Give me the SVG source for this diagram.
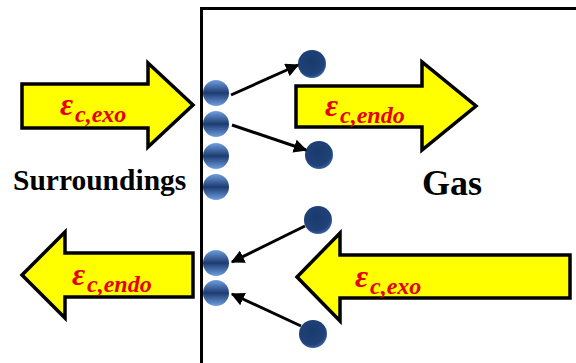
<svg xmlns="http://www.w3.org/2000/svg" width="576" height="363" viewBox="0 0 576 363">
<style>
.big{fill:#ffff00;stroke:#000;stroke-width:3.5;stroke-linejoin:miter}
.eps{font-family:"Liberation Serif","Times New Roman","DejaVu Serif",serif;font-weight:bold;font-style:italic;fill:#e60000}
.e1{font-size:32px}
.e2{font-size:24px}
.lbl{font-family:"Liberation Serif","Times New Roman","DejaVu Serif",serif;font-weight:bold;fill:#000}
.con{stroke:#000;stroke-width:3;fill:none;marker-end:url(#ah)}
</style>
<defs>
<marker id="ah" viewBox="0 0 10 10" refX="9" refY="5" markerWidth="4.5" markerHeight="4.5" orient="auto" markerUnits="strokeWidth">
<path d="M0,0 L10,5 L0,10 z" fill="#000"/>
</marker>
<linearGradient id="surf" x1="0" y1="0" x2="0" y2="1">
<stop offset="0" stop-color="#6f9fe0"/>
<stop offset="0.5" stop-color="#1d3b72"/>
<stop offset="1" stop-color="#6f9fe0"/>
</linearGradient>
<radialGradient id="gas" cx="0.45" cy="0.4" r="0.6">
<stop offset="0" stop-color="#1a3a6c"/>
<stop offset="0.8" stop-color="#1f4278"/>
<stop offset="1" stop-color="#3a62a0"/>
</radialGradient>
</defs>
<rect width="576" height="363" fill="#fff"/>
<g id="box"><path d="M201.5,363 V8.5 H576" fill="none" stroke="#000" stroke-width="3"/></g>

<g id="arrow-exo-in">
<polygon class="big" points="22,84 148,84 148,63 193,105 148,147 148,128 22,128"/>
<text class="eps e1" x="60" y="115">ε</text><text class="eps e2" x="75" y="122">c,exo</text>
</g>
<g id="arrow-endo-gas">
<polygon class="big" points="296,86 422,86 422,62 476,106 422,150 422,127 296,127"/>
<text class="eps e1" x="325" y="116">ε</text><text class="eps e2" x="340" y="123">c,endo</text>
</g>
<g id="arrow-exo-gas">
<polygon class="big" points="570,255 340,255 340,233 297,277 340,321 340,298 570,298"/>
<text class="eps e1" x="355" y="287">ε</text><text class="eps e2" x="370" y="294">c,exo</text>
</g>
<g id="arrow-endo-out">
<polygon class="big" points="193,253 65,253 65,232 22,275 65,318 65,297 193,297"/>
<text class="eps e1" x="72" y="285">ε</text><text class="eps e2" x="87" y="292">c,endo</text>
</g>

<g id="label-surroundings"><text class="lbl" x="13" y="190" font-size="29.5">Surroundings</text></g>
<g id="label-gas"><text class="lbl" x="422" y="195" font-size="36">Gas</text></g>

<g id="surface-molecules">
<circle cx="216" cy="93" r="13" fill="url(#surf)"/>
<circle cx="216" cy="124" r="13" fill="url(#surf)"/>
<circle cx="216" cy="156" r="13" fill="url(#surf)"/>
<circle cx="216" cy="187" r="13" fill="url(#surf)"/>
<circle cx="216" cy="263" r="13" fill="url(#surf)"/>
<circle cx="216" cy="293" r="13" fill="url(#surf)"/>
</g>
<g id="gas-molecules">
<circle cx="312" cy="64" r="14" fill="url(#gas)"/>
<circle cx="319" cy="155" r="14" fill="url(#gas)"/>
<circle cx="318" cy="220" r="14" fill="url(#gas)"/>
<circle cx="313" cy="334" r="14" fill="url(#gas)"/>
</g>

<g id="connectors">
<line class="con" x1="231" y1="95" x2="298" y2="65"/>
<line class="con" x1="232" y1="125" x2="306" y2="150"/>
<line class="con" x1="305" y1="226" x2="232" y2="262"/>
<line class="con" x1="301" y1="326" x2="232" y2="294"/>
</g>
</svg>
